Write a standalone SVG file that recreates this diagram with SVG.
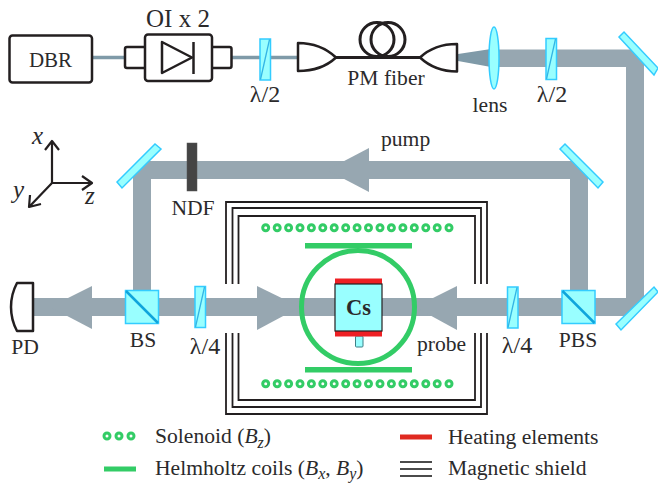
<svg xmlns="http://www.w3.org/2000/svg" width="658" height="483" viewBox="0 0 658 483">
<defs>
<style>
text{font-family:"Liberation Serif","Times New Roman",serif;font-size:21.600px;fill:#2b2a2b}
.m{text-anchor:middle}
.i{font-style:italic}
.l{font-size:24px}
.sub{font-size:16px;font-style:italic}
.beam{fill:#97a7b1;stroke:none}
.opt{fill:#99ffff;stroke:#33ccff;stroke-width:1.5}
.optl{fill:none;stroke:#33b5e5;stroke-width:1.3}
.bs{fill:none;stroke:#0fa5dc;stroke-width:2.5}
.blk{fill:#fff;stroke:#231f20;stroke-width:2.5;stroke-linejoin:round}
.open{fill:none;stroke:#231f20;stroke-width:2.5;stroke-linejoin:round}
.sh{fill:none;stroke:#231f20;stroke-width:1.800}
.sol{fill:#fff;stroke:#33cc66;stroke-width:3}
.grn{fill:#33cc66}
.red{fill:#ee2024}
.fib{fill:none;stroke:#7f9aa8;stroke-width:3.5}
</style>
<circle id="s" class="sol" r="3"/>
<g id="wp"><rect class="opt" x="-5" y="-20.5" width="10.5" height="41"/><line class="optl" x1="-4.5" y1="20" x2="4.5" y2="-20"/></g>
</defs>

<g id="connectors">
<line class="fib" x1="92" y1="57.5" x2="125" y2="57.5"/>
<line class="fib" x1="231" y1="57.5" x2="298" y2="57.5"/>
<polygon class="beam" points="458,54 458,61 491,67 491,49" style="fill:#7f9aa8"/>
<polygon class="beam" points="494,49.500 634,49.500 644,60 644,302 630,316 33,316 33,298 626,298 626,67 494,67"/>
<polygon class="beam" points="144,161 576,161 588,173 588,300 570,300 570,179 151,179 151,300 133,300 133,172"/>
<polygon class="beam" points="369,148 369,192 327,170"/>
<polygon class="beam" points="92,286 92,329 50,307"/>
<polygon class="beam" points="257,286 257,330 300,307"/>
<polygon class="beam" points="457,286 457,330 415,307"/>
<line class="open" style="stroke-width:3" x1="336" y1="57.500" x2="420" y2="57.500"/>
</g>

<g id="dbr"><rect class="blk" x="9.500" y="35.500" width="82.500" height="47" rx="3"/><text class="m" x="50.500" y="67" style="font-size:21px">DBR</text></g>

<g id="oi">
<rect class="blk" x="125" y="47" width="21" height="21" rx="2"/>
<rect class="blk" x="211" y="47" width="20.500" height="21" rx="2"/>
<rect class="blk" x="145" y="34.500" width="67" height="46.500" rx="3"/>
<polygon class="open" points="162,42 192,57.500 162,73"/>
<line class="open" x1="193.500" y1="42" x2="193.500" y2="74"/>
<text class="m" x="178" y="27" style="font-size:25px">OI x 2</text>
</g>

<g id="wp1"><use href="#wp" x="265" y="59.500"/><text class="m l" x="265" y="102">λ/2</text></g>

<g id="fiber">
<path class="open" d="M298,43 C316,43 328,50 336,57.500 C328,65 316,71 298,71 Z"/>
<path class="open" d="M457,44 C439,44 428,50 420,57.500 C428,65 439,71.500 457,71.500 Z"/>
<circle class="open" style="stroke-width:3" cx="377" cy="39.500" r="17"/>
<circle class="open" style="stroke-width:3" cx="388" cy="39.500" r="17"/>
<text class="m" x="386" y="85">PM fiber</text>
</g>

<g id="lens"><ellipse class="opt" cx="494" cy="58" rx="5" ry="31"/><text class="m" x="490" y="112">lens</text></g>
<g id="wp2"><use href="#wp" x="551" y="59"/><text class="m l" x="552" y="102">λ/2</text></g>

<g id="mirrors">
<polygon id="m1" class="opt" points="619,37 624,32 658,68 654,75"/>
<polygon id="m2" class="opt" points="560,149 565,144 603,182 598,188"/>
<polygon id="m3" class="opt" points="117,182 122,188 161,149 155,144"/>
<polygon id="m4" class="opt" points="616,324 621,330 658,292 654,287"/>
</g>

<g id="axes">
<path class="open" style="stroke-width:2.200" d="M52,183 V141 M45,150 L52,141 L59,150"/>
<path class="open" style="stroke-width:2.200" d="M52,183 H92 M82,176 L92,183 L82,190"/>
<path class="open" style="stroke-width:2.200" d="M52,183 L29,207 M30,195 L29,207 L41,204"/>
<text class="i" x="32" y="144" style="font-size:25px">x</text>
<text class="i" x="85" y="204" style="font-size:25px">z</text>
<text class="i" x="13" y="198" style="font-size:25px">y</text>
</g>

<g id="ndf"><rect x="187" y="143" width="10" height="48" fill="#444" stroke="#555" stroke-width=".5"/><text class="m" x="193" y="215">NDF</text></g>

<g id="shield">
<path class="sh" d="M226,284 V202 H487 V284 M226,333 V414 H487 V333"/>
<path class="sh" d="M232.500,284 V208 H481 V284 M232.500,333 V407 H481 V333"/>
<path class="sh" d="M238.500,284 V216 H475 V284 M238.500,333 V400 H475 V333"/>
</g>

<g id="solenoid">
<use href="#s" x="265.700" y="227.700"/><use href="#s" x="277.200" y="227.700"/><use href="#s" x="288.600" y="227.700"/><use href="#s" x="300" y="227.700"/><use href="#s" x="311.400" y="227.700"/><use href="#s" x="322.800" y="227.700"/><use href="#s" x="334.200" y="227.700"/><use href="#s" x="345.700" y="227.700"/><use href="#s" x="357.100" y="227.700"/><use href="#s" x="368.500" y="227.700"/><use href="#s" x="380" y="227.700"/><use href="#s" x="391.400" y="227.700"/><use href="#s" x="402.900" y="227.700"/><use href="#s" x="414.300" y="227.700"/><use href="#s" x="425.800" y="227.700"/><use href="#s" x="437.200" y="227.700"/><use href="#s" x="449" y="227.700"/>
<use href="#s" x="265.700" y="383.700"/><use href="#s" x="277.200" y="383.700"/><use href="#s" x="288.600" y="383.700"/><use href="#s" x="300" y="383.700"/><use href="#s" x="311.400" y="383.700"/><use href="#s" x="322.800" y="383.700"/><use href="#s" x="334.200" y="383.700"/><use href="#s" x="345.700" y="383.700"/><use href="#s" x="357.100" y="383.700"/><use href="#s" x="368.500" y="383.700"/><use href="#s" x="380" y="383.700"/><use href="#s" x="391.400" y="383.700"/><use href="#s" x="402.900" y="383.700"/><use href="#s" x="414.300" y="383.700"/><use href="#s" x="425.800" y="383.700"/><use href="#s" x="437.200" y="383.700"/><use href="#s" x="449" y="383.700"/>
</g>

<g id="helmholtz">
<rect class="grn" x="305" y="243" width="107" height="5.500"/>
<rect class="grn" x="305" y="367" width="107" height="5.500"/>
<circle cx="358" cy="307" r="56.500" fill="none" stroke="#33cc66" stroke-width="5"/>
</g>

<g id="cs">
<rect x="355.500" y="336" width="7.500" height="11" rx="1" fill="#99ffff" stroke="#3d7f86" stroke-width="1"/>
<rect class="red" x="335" y="278.500" width="47" height="6"/>
<rect class="red" x="335" y="331" width="47" height="5.500"/>
<rect x="335" y="284" width="47" height="47" fill="#99ffff" stroke="#231f20" stroke-width="1.200"/>
<text class="m" x="358.500" y="315" style="font-weight:bold;font-size:22.500px">Cs</text>
</g>

<g id="pd"><path class="blk" d="M33,283 H17 C9,298 9,316 17,331 H33 Z"/><text class="m" x="25" y="354">PD</text></g>
<g id="bs"><rect class="opt" x="125.500" y="290.500" width="33" height="33"/><line class="bs" x1="126" y1="291" x2="158" y2="323"/><text class="m" x="143" y="347">BS</text></g>
<g id="wp3"><use href="#wp" x="200" y="307"/><text class="m l" x="205" y="354">λ/4</text></g>
<g id="wp4"><use href="#wp" x="512.500" y="307.500"/><text class="m l" x="517" y="353">λ/4</text></g>
<g id="pbs"><rect class="opt" x="562" y="290.500" width="33" height="33"/><line class="bs" x1="562.500" y1="291" x2="594.500" y2="323"/><text class="m" x="578" y="347">PBS</text></g>

<text id="pump" x="381" y="146">pump</text>
<text id="probe" x="417" y="351">probe</text>

<g id="legend">
<use href="#s" x="107" y="436"/><use href="#s" x="119" y="436"/><use href="#s" x="131" y="436"/>
<text x="155" y="443">Solenoid (<tspan class="i">B</tspan><tspan class="sub" dy="5">z</tspan><tspan dy="-5">)</tspan></text>
<rect class="grn" x="104" y="466.500" width="32" height="5"/>
<text x="155" y="475">Helmholtz coils (<tspan class="i">B</tspan><tspan class="sub" dy="3.500">x</tspan><tspan dy="-3.500">, </tspan><tspan class="i">B</tspan><tspan class="sub" dy="3.500">y</tspan><tspan dy="-3.500">)</tspan></text>
<rect x="400" y="434.500" width="32" height="5" fill="#e02a20"/>
<text x="448" y="444">Heating elements</text>
<path d="M400,462 H432 M400,469 H432 M400,476 H432" fill="none" stroke="#111" stroke-width="1.600"/>
<text x="448" y="475">Magnetic shield</text>
</g>
</svg>
